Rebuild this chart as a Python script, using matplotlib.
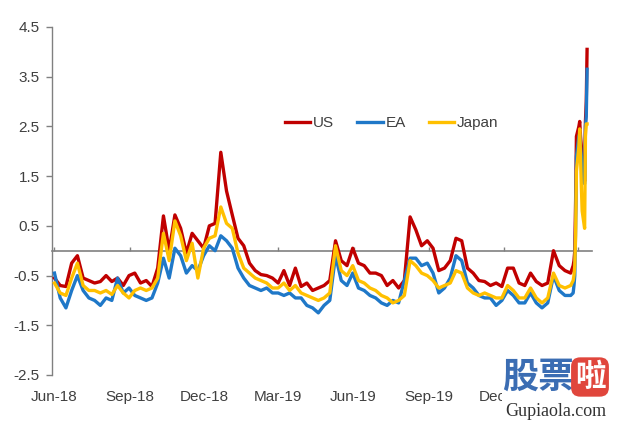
import matplotlib
matplotlib.use('Agg')
import matplotlib.pyplot as plt
import matplotlib.dates as mdates
import pandas as pd
import numpy as np
from matplotlib.patches import Rectangle

plt.rcParams['font.family'] = ['Liberation Sans', 'DejaVu Sans']

# ---- data (weekly readings Jun-2018 .. Feb-2020, then daily for the Mar-2020 surge)
week_start = '2018-06-01'
us_weekly = [
    -0.55, -0.70, -0.72, -0.25, -0.10, -0.55, -0.60, -0.65, -0.62, -0.50,
    -0.62, -0.55, -0.70, -0.50, -0.45, -0.65, -0.60, -0.72, -0.35, 0.70,
    0.00, 0.72, 0.45, -0.05, 0.35, 0.20, 0.05, 0.50, 0.55, 1.98,
    1.20, 0.72, 0.25, 0.10, -0.25, -0.40, -0.48, -0.50, -0.55, -0.65,
    -0.40, -0.70, -0.35, -0.72, -0.65, -0.80, -0.75, -0.70, -0.60, 0.20,
    -0.20, -0.30, 0.05, -0.25, -0.30, -0.45, -0.45, -0.50, -0.70, -0.60,
    -0.75, -0.60, 0.68, 0.42, 0.10, 0.20, 0.05, -0.40, -0.35, -0.20,
    0.25, 0.20, -0.35, -0.45, -0.60, -0.62, -0.70, -0.65, -0.72, -0.35,
    -0.35, -0.65, -0.70, -0.45, -0.62, -0.70, -0.65, 0.00, -0.30, -0.40,
    -0.45]
ea_weekly = [
    -0.45, -0.95, -1.15, -0.80, -0.50, -0.80, -0.95, -1.00, -1.10, -0.95,
    -1.00, -0.55, -0.85, -0.75, -0.90, -0.95, -1.00, -0.95, -0.65, -0.15,
    -0.55, 0.05, -0.10, -0.45, -0.30, -0.40, -0.10, 0.10, 0.00, 0.30,
    0.20, 0.05, -0.35, -0.55, -0.70, -0.75, -0.80, -0.75, -0.85, -0.85,
    -0.90, -0.85, -0.95, -0.95, -1.10, -1.15, -1.25, -1.10, -1.00, -0.10,
    -0.60, -0.70, -0.45, -0.75, -0.80, -0.90, -0.95, -1.05, -1.10, -1.00,
    -1.05, -0.60, -0.15, -0.15, -0.30, -0.25, -0.45, -0.85, -0.75, -0.55,
    -0.10, -0.20, -0.65, -0.75, -0.90, -0.95, -0.95, -1.10, -1.00, -0.80,
    -0.90, -1.05, -1.05, -0.85, -1.05, -1.15, -1.05, -0.50, -0.80, -0.90,
    -0.90]
jp_weekly = [
    -0.65, -0.85, -0.90, -0.55, -0.25, -0.70, -0.80, -0.80, -0.85, -0.80,
    -0.88, -0.70, -0.85, -0.95, -0.80, -0.75, -0.80, -0.75, -0.55, 0.35,
    -0.20, 0.60, 0.30, -0.20, 0.15, -0.55, 0.05, 0.25, 0.30, 0.88,
    0.55, 0.45, -0.05, -0.35, -0.45, -0.55, -0.60, -0.65, -0.75, -0.75,
    -0.65, -0.80, -0.70, -0.85, -0.90, -0.95, -1.00, -0.95, -0.85, 0.10,
    -0.40, -0.50, -0.30, -0.60, -0.65, -0.75, -0.80, -0.90, -0.95, -1.05,
    -1.00, -0.90, -0.20, -0.30, -0.45, -0.50, -0.60, -0.75, -0.70, -0.65,
    -0.40, -0.45, -0.75, -0.85, -0.90, -0.85, -0.90, -0.95, -0.95, -0.70,
    -0.80, -0.95, -0.95, -0.75, -0.95, -1.05, -0.95, -0.45, -0.70, -0.75,
    -0.70]

surge_dates = ['2020-02-24', '2020-02-25', '2020-02-26', '2020-02-27', '2020-02-28',
               '2020-03-02', '2020-03-03', '2020-03-04', '2020-03-05', '2020-03-06',
               '2020-03-09', '2020-03-10', '2020-03-11', '2020-03-12']
us_surge = [-0.30, -0.20, 0.00, 1.00, 2.30, 2.50, 2.60, 2.30, 2.10, 1.60, 1.40, 2.60, 3.00, 4.05]
ea_surge = [-0.85, -0.70, -0.50, 0.50, 1.90, 2.30, 2.35, 2.10, 1.90, 1.40, 1.35, 2.50, 2.70, 3.65]
jp_surge = [-0.60, -0.50, -0.30, 0.30, 1.60, 2.10, 2.45, 1.90, 1.30, 0.80, 0.45, 2.30, 2.55, 2.55]

tick_dates = ['2018-06-01', '2018-09-01', '2018-12-01', '2019-03-01',
              '2019-06-01', '2019-09-01', '2019-12-01', '2020-03-01']
# the Mar-20 label is hidden under the site watermark in the reference
tick_labels = ['Jun-18', 'Sep-18', 'Dec-18', 'Mar-19', 'Jun-19', 'Sep-19', 'Dec-19', '']
y_ticks = [-2.5, -1.5, -0.5, 0.5, 1.5, 2.5, 3.5, 4.5]

# ---- build series
dates = list(pd.date_range(week_start, periods=len(us_weekly), freq='7D')) + list(pd.to_datetime(surge_dates))
x = mdates.date2num(dates)
us = us_weekly + us_surge
ea = ea_weekly + ea_surge
jp = jp_weekly + jp_surge

fig = plt.figure(figsize=(6.17, 4.21), dpi=100)
ax = fig.add_axes([52 / 617, 46 / 421, 540 / 617, 348 / 421])

lw = 2.4
ax.plot(x, us, color='#C00000', lw=lw, zorder=3, label='US', solid_joinstyle='round')
ax.plot(x, ea, color='#1F78C8', lw=lw, zorder=3.1, label='EA', solid_joinstyle='round')
ax.plot(x, jp, color='#FFC000', lw=lw, zorder=3.2, label='Japan', solid_joinstyle='round')

ax.set_xlim(mdates.date2num(pd.Timestamp('2018-05-29')), mdates.date2num(pd.Timestamp('2020-03-18')))
ax.set_ylim(-2.5, 4.5)
ax.set_yticks(y_ticks, [f'{v:.1f}' for v in y_ticks])

for s in ['top', 'right']:
    ax.spines[s].set_visible(False)
ax.spines['left'].set_color('#808080')
ax.spines['left'].set_linewidth(1.0)
ax.spines['bottom'].set_position(('data', 0))
ax.spines['bottom'].set_color('#808080')
ax.spines['bottom'].set_linewidth(1.2)

xt = mdates.date2num(pd.to_datetime(tick_dates))
ax.set_xticks(xt)
ax.tick_params(axis='x', direction='in', length=3, width=1, color='#808080', labelbottom=False)
ax.tick_params(axis='y', direction='out', length=4, width=1, color='#808080',
               labelsize=11, labelcolor='#404040', pad=5)

sec = ax.secondary_xaxis('bottom')
sec.set_xticks(xt, tick_labels)
sec.spines['bottom'].set_visible(False)
sec.tick_params(length=0, pad=11, labelsize=11, labelcolor='#404040')

leg = ax.legend(loc='center left', bbox_to_anchor=(285 / 617, 1 - 123 / 421),
                bbox_transform=fig.transFigure, frameon=False, ncol=3,
                handlelength=1.65, handletextpad=0.2, columnspacing=1.5,
                borderpad=0, borderaxespad=0, fontsize=11)
for t in leg.get_texts():
    t.set_color('#404040')

# ---- watermark
fig.add_artist(Rectangle((502 / 617, 0), 115 / 617, 64 / 421, transform=fig.transFigure,
                         facecolor='white', edgecolor='none', zorder=5))
fig.text(538 / 617, 1 - 377 / 421, '股票', fontsize=26, weight='bold', color='#3B6DB3',
         family=['Noto Sans CJK SC'], ha='center', va='center', zorder=6)
fig.text(590 / 617, 1 - 377 / 421, '啦', fontsize=22, weight='bold', color='white',
         family=['Noto Sans CJK SC'], ha='center', va='center', zorder=6,
         bbox=dict(boxstyle='round,pad=0.12,rounding_size=0.3', fc='#E0463C', ec='none'))
fig.text(556 / 617, 1 - 411 / 421, 'Gupiaola.com', fontsize=13, color='#333333',
         family=['Liberation Serif'], ha='center', va='center', zorder=6)

fig.savefig('out.png', dpi=100)
